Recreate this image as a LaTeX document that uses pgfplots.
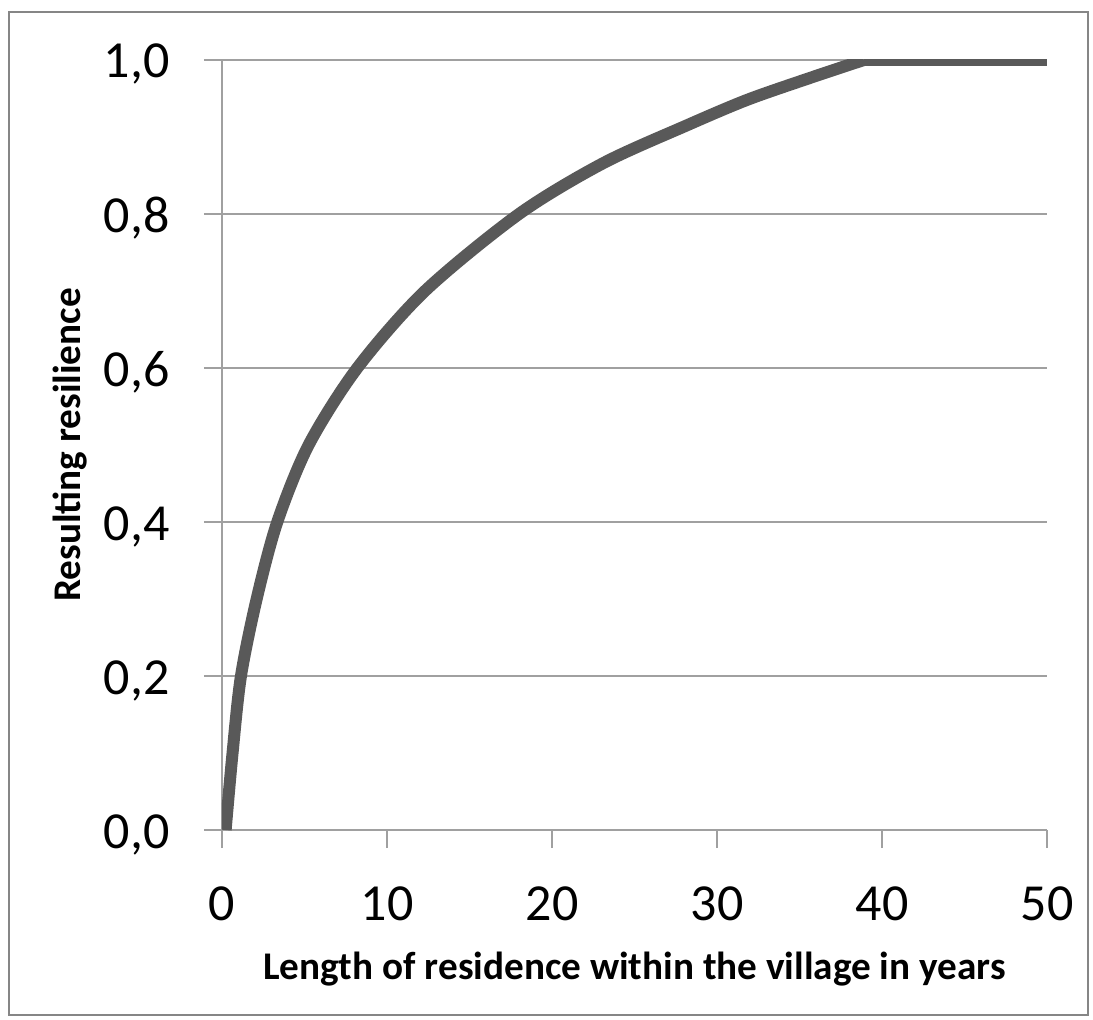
\documentclass[border=0pt]{standalone}
\usepackage{fontspec}
\setmainfont{Carlito}
\usepackage{pgfplots}
\pgfplotsset{compat=1.18}
\definecolor{curvegray}{RGB}{89,89,89}
\definecolor{gridgray}{RGB}{160,160,160}
\definecolor{framegray}{RGB}{134,134,134}

\begin{document}
\begin{tikzpicture}
% page size: 1 pt = 2 px of the reference, axis origin at (0,0)
\useasboundingbox (-111pt,-94.5pt) rectangle (435.5pt,415pt);
\draw[framegray, line width=1pt] (-106.5pt,-92.5pt) rectangle (433pt,409pt);
\begin{axis}[
    scale only axis,
    width=412.5pt, height=385pt,
    xmin=0, xmax=50, ymin=0, ymax=1,
    xtick={0,10,20,30,40,50},
    ytick={0,0.2,0.4,0.6,0.8,1},
    axis x line*=bottom, axis y line*=left,
    axis line style={gridgray, line width=0.75pt},
    ymajorgrids,
    grid style={gridgray, line width=0.75pt},
    tick align=outside, major tick length=9pt,
    tick style={gridgray, line width=0.75pt},
    /pgf/number format/assume math mode=true,
    yticklabel style={/pgf/number format/use comma, /pgf/number format/fixed,
        /pgf/number format/fixed zerofill, /pgf/number format/precision=1},
    ticklabel style={font=\fontsize{26}{30}\selectfont, inner sep=0pt},
    xticklabel style={anchor=base, yshift=-36pt},
    yticklabel style={anchor=base east, xshift=-17pt, yshift=-9pt},
    xlabel={Length of residence within the village in years},
    ylabel={Resulting resilience},
    label style={font=\fontsize{19.6}{23}\selectfont\bfseries},
    xlabel style={at={(axis description cs:0.5,-0.1948)}, anchor=base},
    ylabel style={at={(axis description cs:-0.1721,0.5)}, anchor=base},
]
\addplot[curvegray, line width=6pt, smooth] coordinates {
    (0.22,0) (0.64,0.10) (1.15,0.20) (2.1,0.30) (3.35,0.40) (5.25,0.50)
    (8.2,0.60) (12.3,0.70) (18.0,0.80) (23.1,0.866)
    (28.16,0.915) (31.8,0.948) (35.4,0.975) (38.9,1.0)
};
\addplot[curvegray, line width=6pt] coordinates {
    (38.9,1.0) (50,1.0)
};
\end{axis}
\end{tikzpicture}
\end{document}
